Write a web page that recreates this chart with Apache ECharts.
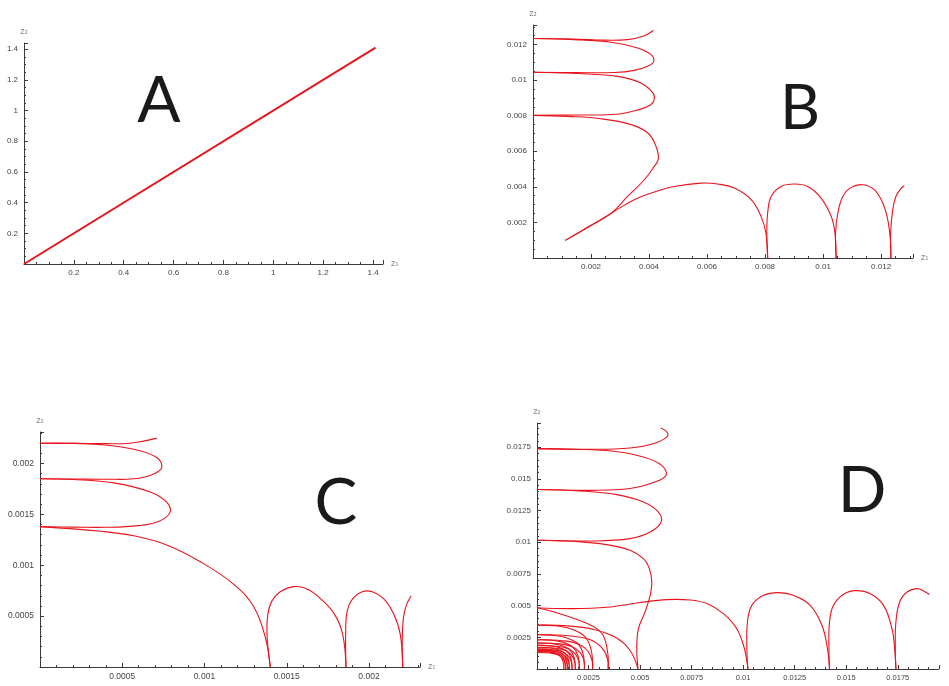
<!DOCTYPE html>
<html><head><meta charset="utf-8">
<script src="https://cdn.jsdelivr.net/npm/echarts@6/dist/echarts.min.js"></script>
<style>html,body{margin:0;padding:0;background:#fff}#c{width:949px;height:686px}</style>
</head><body><div id="c"></div>
<script>
// ---------- Panel A ----------
const aLine = [[0,0],[1.41,1.41]];

// ---------- Panel B ----------
const bUpStart = [[0.00111,0.00099],[0.0019,0.00174],[0.0027,0.00252],[0.00326,0.00346],[0.00384,0.0044],[0.00418,0.00515],[0.00432,0.00555],[0.00424,0.00628],[0.00396,0.00703],[0.00338,0.0075],[0.00234,0.00783],[0.0012,0.00796],[0,0.00802]];
const bLoop1 = [[0,0.00802],[0.0015,0.00804],[0.0029,0.00808],[0.0036,0.00832],[0.00405,0.0086],[0.00418,0.0089],[0.00413,0.00928],[0.00372,0.00984],[0.00292,0.01021],[0.00154,0.01037],[0,0.01044]];
const bLoop2 = [[0,0.01044],[0.0015,0.01042],[0.0028,0.01043],[0.00349,0.01055],[0.00395,0.01078],[0.00416,0.01106],[0.00407,0.01143],[0.00361,0.01181],[0.00269,0.01213],[0.00142,0.01228],[0,0.01234]];
const bUpEnd = [[0,0.01234],[0.0011,0.01232],[0.0022,0.01226],[0.00326,0.01228],[0.00384,0.0125],[0.00415,0.01279]];
const bLowStart = [[0.00111,0.00099],[0.0019,0.00174],[0.0027,0.00252],[0.00349,0.00328],[0.00424,0.00374],[0.00487,0.00402],[0.00579,0.00421],[0.00637,0.00416],[0.00694,0.00393],[0.00752,0.00328],[0.00786,0.00234],[0.00803,0.0014],[0.00809,0]];
const bArch2 = [[0.00809,0],[0.00806,0.0014],[0.00809,0.00253],[0.00821,0.00346],[0.00855,0.00402],[0.00901,0.00416],[0.00947,0.00402],[0.00993,0.00337],[0.01028,0.00234],[0.01041,0.0014],[0.01045,0]];
const bArch3 = [[0.01045,0],[0.01043,0.0014],[0.01051,0.00253],[0.01068,0.00346],[0.01097,0.00397],[0.01137,0.00412],[0.01177,0.00383],[0.01206,0.00308],[0.01223,0.00215],[0.01232,0.001],[0.01234,0]];
const bLowEnd = [[0.01234,0],[0.01233,0.0014],[0.0124,0.00271],[0.01251,0.00346],[0.01268,0.0039],[0.0128,0.00406]];

// ---------- Panel C ----------
const cDown = [[0,0.00138],[0.00037,0.001334],[0.00057,0.00129],[0.00077,0.0012],[0.00098,0.00103],[0.00118,0.00081],[0.0013,0.00059],[0.00137,0.00029],[0.0014,0]];
const cLoop1 = [[0,0.00138],[0.0002,0.001375],[0.0004,0.001373],[0.0006,0.00139],[0.00072,0.00143],[0.00079,0.00152],[0.00077,0.00162],[0.00067,0.00172],[0.00045,0.00181],[0.0002,0.001843],[0,0.00185]];
const cLoop2 = [[0,0.00185],[0.0002,0.001848],[0.0004,0.001846],[0.00057,0.00185],[0.00068,0.00189],[0.00074,0.00196],[0.00071,0.00206],[0.00057,0.00214],[0.00037,0.002186],[0.00016,0.0022],[0,0.0022]];
const cUpEnd = [[0,0.0022],[0.0002,0.002198],[0.0004,0.002196],[0.00053,0.002197],[0.00063,0.00222],[0.00071,0.00225]];
const cArch2 = [[0.0014,0],[0.00138,0.00032],[0.001385,0.00052],[0.00141,0.00065],[0.00146,0.00074],[0.00154,0.00079],[0.00162,0.00077],[0.0017,0.00068],[0.00179,0.00052],[0.00184,0.00032],[0.00186,0]];
const cArch3 = [[0.00186,0],[0.001858,0.00032],[0.001867,0.00055],[0.0019,0.00067],[0.00196,0.00074],[0.00202,0.00074],[0.00209,0.00067],[0.00215,0.00052],[0.00219,0.00032],[0.002205,0]];
const cLowEnd = [[0.002205,0],[0.002202,0.00026],[0.00221,0.00049],[0.00223,0.00062],[0.002257,0.0007]];

// ---------- Panel D ----------
const dBulge = [[0.0049,0],[0.00484,0.00161],[0.00492,0.00318],[0.00524,0.0045],[0.00549,0.00581],[0.00557,0.00686],[0.00545,0.00792],[0.00516,0.00871],[0.00451,0.00936],[0.00338,0.00981],[0.00176,0.01007],[0,0.01015]];
const dLoop1 = [[0,0.01015],[0.00257,0.01009],[0.00451,0.01028],[0.00549,0.0108],[0.00602,0.01159],[0.00589,0.01238],[0.00516,0.01317],[0.00387,0.01375],[0.00209,0.01404],[0,0.01415]];
const dLoop2 = [[0,0.01415],[0.00257,0.01409],[0.00451,0.01423],[0.00565,0.0147],[0.00626,0.01528],[0.00605,0.01606],[0.00516,0.01672],[0.0037,0.01717],[0.00176,0.01733],[0,0.01738]];
const dUpEnd = [[0,0.01738],[0.00257,0.01733],[0.00451,0.01743],[0.00565,0.01777],[0.0063,0.0183],[0.0063,0.01869],[0.006,0.019]];
const dBigArch = [[0,0.00483],[0.00176,0.00476],[0.00338,0.00487],[0.005,0.00524],[0.0063,0.00547],[0.00743,0.00544],[0.00824,0.00516],[0.00904,0.00437],[0.00969,0.00318],[0.01006,0.00161],[0.01023,0]];
const dArch2 = [[0.01023,0],[0.01018,0.00161],[0.01021,0.00371],[0.01042,0.00502],[0.01099,0.00581],[0.01171,0.00602],[0.01244,0.00581],[0.01325,0.00502],[0.01382,0.00345],[0.01409,0.00161],[0.01419,0]];
const dArch3 = [[0.01419,0],[0.01416,0.00161],[0.01419,0.00371],[0.01438,0.00502],[0.01487,0.00589],[0.01544,0.00618],[0.01617,0.00594],[0.01681,0.00502],[0.01722,0.00318],[0.01735,0.00161],[0.01741,0]];
const dLowEnd = [[0.01741,0],[0.01738,0.00161],[0.01741,0.00371],[0.01759,0.00528],[0.01795,0.00607],[0.01843,0.00634],[0.01875,0.00616],[0.01904,0.00587]];
const dArcsW = [
  [[0,0.0013],[0.00062,0.00126],[0.00104,0.00111],[0.00127,0.00078],[0.00137,0.00039],[0.00138,0]],
  [[0,0.00138],[0.00066,0.00134],[0.0011,0.00117],[0.00135,0.00083],[0.00146,0.00041],[0.00147,0]],
  [[0,0.00147],[0.00071,0.00143],[0.00118,0.00125],[0.00144,0.00088],[0.00155,0.00044],[0.00157,0]],
  [[0,0.00157],[0.00077,0.00152],[0.00128,0.00133],[0.00156,0.00094],[0.00168,0.00047],[0.0017,0]],
  [[0,0.0017],[0.00084,0.00165],[0.0014,0.00145],[0.00171,0.00102],[0.00184,0.00051],[0.00186,0]],
  [[0,0.00186],[0.00092,0.0018],[0.00154,0.00158],[0.00189,0.00112],[0.00203,0.00056],[0.00205,0]],
  [[0,0.00205],[0.00104,0.00199],[0.00173,0.00174],[0.00212,0.00123],[0.00228,0.00062],[0.0023,0]],
  [[0,0.0023],[0.00122,0.00223],[0.00203,0.00196],[0.00248,0.00138],[0.00267,0.00069],[0.0027,0]],
  [[0,0.0027],[0.00155,0.00262],[0.00259,0.0023],[0.00317,0.00162],[0.00342,0.00081],[0.00345,0]],
  [[0,0.00345],[0.0015,0.0034],[0.0028,0.0031],[0.0038,0.0025],[0.0045,0.0015],[0.0049,0]]
];
const dArcsF = [
  [[0.0013,0],[0.00126,0.00062],[0.00111,0.00104],[0.00078,0.00127],[0.00039,0.00137],[0,0.00138]],
  [[0.00138,0],[0.00134,0.00066],[0.00117,0.0011],[0.00083,0.00135],[0.00041,0.00146],[0,0.00147]],
  [[0.00147,0],[0.00143,0.00071],[0.00125,0.00118],[0.00088,0.00144],[0.00044,0.00155],[0,0.00157]],
  [[0.00157,0],[0.00152,0.00077],[0.00133,0.00128],[0.00094,0.00156],[0.00047,0.00168],[0,0.0017]],
  [[0.0017,0],[0.00165,0.00084],[0.00145,0.0014],[0.00102,0.00171],[0.00051,0.00184],[0,0.00186]],
  [[0.00186,0],[0.0018,0.00092],[0.00158,0.00154],[0.00112,0.00189],[0.00056,0.00203],[0,0.00205]],
  [[0.00205,0],[0.00199,0.00104],[0.00174,0.00173],[0.00123,0.00212],[0.00062,0.00228],[0,0.0023]],
  [[0.0023,0],[0.00223,0.00122],[0.00196,0.00203],[0.00138,0.00248],[0.00069,0.00267],[0,0.0027]],
  [[0.0027,0],[0.00262,0.00155],[0.0023,0.00259],[0.00162,0.00317],[0.00081,0.00342],[0,0.00345]],
  [[0.00346,0],[0.00341,0.0015],[0.00314,0.00282],[0.00241,0.0036],[0.00079,0.00452],[0,0.00483]]
];

// ---------- axis tick settings ----------
const axA = {max:1.44, interval:0.2, minor:4};
const axBx = {max:0.0131, interval:0.002, minor:4};
const axBy = {max:0.0131, interval:0.002, minor:4};
const axCx = {max:0.00231, interval:0.0005, minor:5};
const axCy = {max:0.00231, interval:0.0005, minor:5};
const axDx = {max:0.0195, interval:0.0025, minor:5, noName:true};
const axDy = {max:0.0194, interval:0.0025, minor:5};

const RED = '#e8141d';
const AXC = '#3a3a3a';

function fmt(interval){
  return function(v){
    if (Math.abs(v) < 1e-12) return '';
    const k = v / interval;
    if (Math.abs(k - Math.round(k)) > 1e-6) return '';
    return String(parseFloat(v.toPrecision(8)));
  };
}
function axis(dim, gi, ax, fs){
  const isX = dim === 'x';
  return {
    type:'value', gridIndex:gi, min:0, max:ax.max, interval:ax.interval,
    axisLine:{show:true, onZero:false, lineStyle:{color:AXC, width:1}},
    axisTick:{show:true, inside:true, length:4, lineStyle:{color:AXC, width:1}},
    minorTick:{show:true, splitNumber:ax.minor, length:2, lineStyle:{color:AXC, width:1}},
    splitLine:{show:false}, minorSplitLine:{show:false},
    axisLabel:{show:true, fontSize:fs, color:'#444', margin:isX?5:6, fontFamily:'Liberation Sans', formatter:fmt(ax.interval), hideOverlap:false},
    name: ax.noName ? '' : (isX ? 'z\u2081' : 'z\u2082'), nameLocation:'end', nameGap: isX ? 8 : 7,
    nameTextStyle:{fontSize:8, color:'#888', fontFamily:'DejaVu Sans', align: isX ? 'left':'center', verticalAlign: isX?'middle':'bottom'}
  };
}
// one custom series per panel: each item is one curve, drawn as a smooth polyline through
// the read points after mapping them through the panel's axes
function curves(list, gi, w){
  return {
    type:'custom', coordinateSystem:'cartesian2d', xAxisIndex:gi, yAxisIndex:gi,
    data: list.map((c,i)=>[c[0][0], c[0][1], i]),
    clip:false, silent:true, animation:false, z:3,
    renderItem: function(params, api){
      const c = list[params.dataIndex];
      const pts = c.map(p=>api.coord(p));
      return {type:'polyline', shape:{points:pts, smooth: c.length > 2 ? 0.4 : 0},
        style:{stroke:RED, lineWidth:w, fill:null, lineJoin:'round'}};
    }
  };
}

const series = [
  curves([aLine], 0, 2),
  curves([bUpStart,bLoop1,bLoop2,bUpEnd,bLowStart,bArch2,bArch3,bLowEnd], 1, 1.1),
  curves([cDown,cLoop1,cLoop2,cUpEnd,cArch2,cArch3,cLowEnd], 2, 1.1),
  curves([dBulge,dLoop1,dLoop2,dUpEnd,dBigArch,dArch2,dArch3,dLowEnd].concat(dArcsW, dArcsF), 3, 1.1)
];

const chart = echarts.init(document.getElementById('c'), null, {renderer:'canvas'});
chart.setOption({
  animation:false,
  backgroundColor:'#fff',
  grid:[
    {left:24, top:43, width:359, height:221, containLabel:false},
    {left:533, top:25, width:380, height:233, containLabel:false},
    {left:40, top:432, width:380, height:235, containLabel:false},
    {left:537, top:423, width:402, height:246, containLabel:false}
  ],
  xAxis:[axis('x',0,axA,8), axis('x',1,axBx,8), axis('x',2,axCx,8.5), axis('x',3,axDx,7.5)],
  yAxis:[axis('y',0,axA,8), axis('y',1,axBy,8), axis('y',2,axCy,8.5), axis('y',3,axDy,8)],
  graphic:[
    {type:'text', x:159, y:101, style:{text:'A', fontSize:64, fontFamily:'Lato', fill:'#1a1a1a', align:'center', verticalAlign:'middle'}},
    {type:'text', x:800, y:109, style:{text:'B', fontSize:62, fontFamily:'Lato', fill:'#1a1a1a', align:'center', verticalAlign:'middle'}},
    {type:'text', x:336, y:503, style:{text:'C', fontSize:64, fontFamily:'Lato', fill:'#1a1a1a', align:'center', verticalAlign:'middle'}},
    {type:'text', x:862, y:491, style:{text:'D', fontSize:64, fontFamily:'Lato', fill:'#1a1a1a', align:'center', verticalAlign:'middle'}}
  ],
  series:series
});
</script></body></html>
